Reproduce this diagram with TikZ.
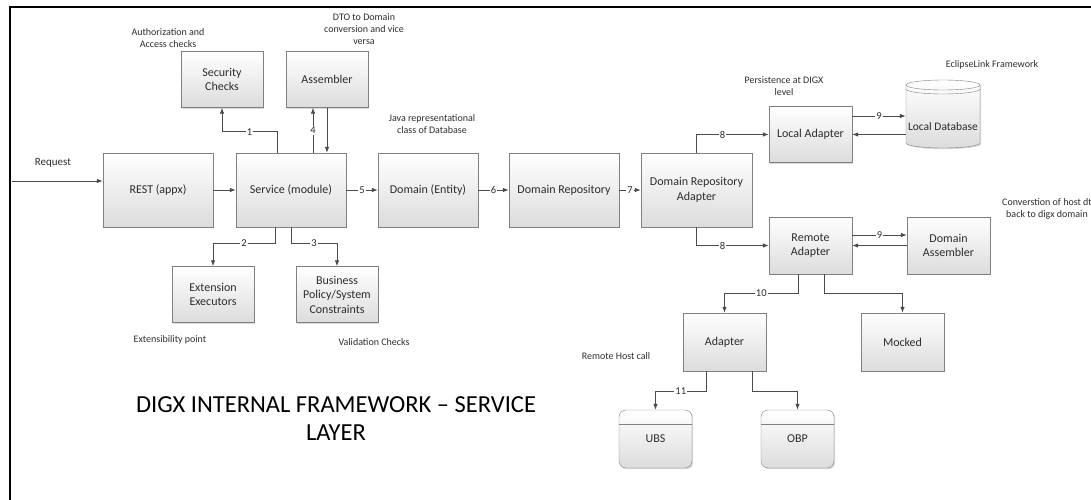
\documentclass[tikz,border=0pt]{standalone}
\usepackage{fontspec}
\setmainfont{Carlito}
\usetikzlibrary{arrows.meta,shadows}
\definecolor{boxline}{RGB}{128,128,128}
\definecolor{boxfill}{RGB}{220,220,220}
\definecolor{wiregray}{RGB}{75,75,75}
\definecolor{ink}{RGB}{45,45,45}
\tikzset{
  box/.style={draw=boxline,top color=white,bottom color=boxfill,align=center,text=ink,
    font=\fontsize{12}{14.5}\selectfont,inner sep=2pt,
    drop shadow={shadow xshift=1.2pt,shadow yshift=-1.2pt,opacity=0.3}},
  stage/.style={box,minimum width=110pt,minimum height=74pt},
  part/.style={box,minimum width=82pt,minimum height=56pt},
  host/.style={box,rounded corners=7pt,minimum width=73pt,minimum height=58pt},
  note/.style={align=center,text=ink,font=\fontsize{10}{12}\selectfont},
  num/.style={fill=white,inner sep=1pt,text=ink,font=\fontsize{10.5}{12}\selectfont},
  wire/.style={draw=wiregray,line width=0.8pt},
}

\begin{document}
\begin{tikzpicture}[x=1pt,y=-1pt,>={Latex[length=6pt,width=4.5pt]}]
\useasboundingbox (0,0) rectangle (1091,500);
\draw [line width=2.5pt] (1091,7)--(10,7)--(10,500);

% main row
\node [stage] (rest) at (158,190) {REST (appx)};
\node [stage] (service) at (291,190) {Service (module)};
\node [stage,minimum width=100pt] (ent) at (428,190) {Domain (Entity)};
\node [stage] (repo) at (564,190) {Domain Repository};
\node [stage,minimum width=111pt] (dra) at (696.5,190) {Domain Repository\\Adapter};

% around the service
\node [part] (sec) at (222,79.5) {Security\\Checks};
\node [part] (asm) at (327,79.5) {Assembler};
\node [part] (ext) at (213,294.5) {Extension\\Executors};
\node [part] (bus) at (337,294.5) {Business\\Policy/System\\Constraints};

% adapters
\node [part,minimum width=83pt] (local) at (810.5,134.5) {Local Adapter};
\node [part,minimum width=83pt,minimum height=57pt] (remote) at (810.5,245.5) {Remote\\Adapter};
\node [part,minimum width=83pt,minimum height=57pt] (dasm) at (948.5,245.5) {Domain\\Assembler};
\node [part,minimum width=83pt,minimum height=58pt] (adapter) at (724.5,342) {Adapter};
\node [part,minimum width=83pt,minimum height=58pt] (mocked) at (902.5,342) {Mocked};
\node [host] (ubs) at (655.5,439) {UBS};
\node [host] (obp) at (797.5,439) {OBP};
\draw [boxline] ([yshift=-14pt]ubs.north west)--([yshift=-14pt]ubs.north east);
\draw [boxline] ([yshift=-14pt]obp.north west)--([yshift=-14pt]obp.north east);

% local database
\path [draw=boxline,top color=white,bottom color=boxfill,drop shadow={shadow xshift=1.2pt,shadow yshift=-1.2pt,opacity=0.3}]
  (906,85)--(906,143) arc[start angle=180,end angle=360,x radius=37pt,y radius=5pt]
  --(980,85) arc[start angle=0,end angle=180,x radius=37pt,y radius=5pt]--cycle;
\draw [boxline] (906,85) arc[start angle=180,end angle=360,x radius=37pt,y radius=5pt];
\draw [boxline] (906,89) arc[start angle=180,end angle=360,x radius=37pt,y radius=5pt];
\node [text=ink,font=\fontsize{11.5}{14}\selectfont,minimum width=74pt,inner sep=0pt] (db) at (943,127) {Local Database};

% connectors
\coordinate (req) at (12,181);
\draw [wire,->] (req)--(req -| rest.west);
\draw [wire,->] (rest)--(service);
\draw [wire,->] ([xshift=-14pt]service.north)--++(0,-21) -| node[num,pos=0.25]{1} (sec.south);
\coordinate (s4) at ([xshift=22pt]service.north);
\draw [wire,->] (s4)--node[num]{4} (s4 |- asm.south);
\draw [wire,->] (asm.south)--(asm.south |- service.north);
\draw [wire,->] ([xshift=-16pt]service.south)--++(0,16) -| node[num,pos=0.25]{2} (ext.north);
\draw [wire,->] (service.south)--++(0,16) -| node[num,pos=0.25]{3} (bus.north);
\draw [wire,->] (service)--node[num]{5} (ent);
\draw [wire,->] (ent)--node[num]{6} (repo);
\draw [wire,->] (repo)--node[num]{7} (dra);
\draw [wire,->] (dra.north) |- node[num,pos=0.68]{8} (local.west);
\draw [wire,->] (dra.south) |- node[num,pos=0.68]{8} (remote.west);
\coordinate (l9) at ([yshift=18.5pt]local.east);
\draw [wire,->] (l9)--node[num]{9} (l9 -| db.west);
\draw [wire,->] (db.west |- local.east)--(local.east);
\coordinate (r9) at ([yshift=10.5pt]remote.east);
\draw [wire,->] (r9)--node[num]{9} (r9 -| dasm.west);
\draw [wire,->] (dasm.west)--(remote.east);
\draw [wire,->] ([xshift=-12.5pt]remote.south)--++(0,19) -| node[num,pos=0.25]{10} (adapter.north);
\draw [wire,->] ([xshift=13.5pt]remote.south)--++(0,19) -| (mocked.north);
\draw [wire,->] ([xshift=-18.5pt]adapter.south)--++(0,20) -| node[num,pos=0.25]{11} (ubs.north);
\draw [wire,->] ([xshift=27.5pt]adapter.south)--++(0,20) -| (obp.north);

% notes
\node [note,font=\fontsize{11}{13}\selectfont] (reqnote) at (53,163) {Request};
\node [note] (authnote) at (168,38) {Authorization and\\Access checks};
\node [note] (dtonote) at (364,29.5) {DTO to Domain\\conversion and vice\\versa};
\node [note] (javanote) at (432,124) {Java representational\\class of Database};
\node [note] (persnote) at (784,86) {Persistence at DIGX\\level};
\node [note] (linknote) at (992,65) {EclipseLink Framework};
\node [note] (hostnote) at (1047,209) {Converstion of host dt\\back to digx domain};
\node [note] (extnote) at (170,340) {Extensibility point};
\node [note] (valnote) at (374,342) {Validation Checks};
\node [note] (remnote) at (616,356) {Remote Host call};
\node [align=center,text=black,font=\fontsize{24.5}{28}\selectfont] (heading) at (336,419) {DIGX INTERNAL FRAMEWORK – SERVICE\\LAYER};
\end{tikzpicture}
\end{document}
